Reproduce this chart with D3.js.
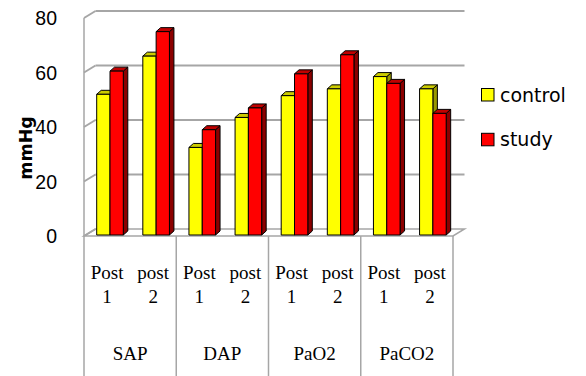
<!DOCTYPE html>
<html>
<head>
<meta charset="utf-8">
<script src="https://cdn.jsdelivr.net/npm/d3@7"></script>
<style>
  html, body { margin: 0; padding: 0; background: #fff; }
  svg { display: block; }
</style>
</head>
<body>
<svg id="chart" width="586" height="376"></svg>
<script>
// Measurement groups and their time points
const groups = ["SAP", "DAP", "PaO2", "PaCO2"];
const timepoints = [["Post", "1"], ["post", "2"]];
const seriesNames = ["control", "study"];
// Values in mmHg, one per group/time point (SAP p1, SAP p2, DAP p1, ...)
const controlValues = [52, 66, 32.5, 43.5, 51.5, 54, 58.5, 54];
const studyValues = [60.5, 75, 39, 47, 59.5, 66.5, 56, 45];
const yTicks = [0, 20, 40, 60, 80];

const svg = d3.select("#chart");

// 3D frame geometry
const frontLeft = 84, frontRight = 453, floorY = 236;
const wallDx = 11.5, wallDy = -7;
const barDx = 4.5, barDy = -4;

const slots = [];
groups.forEach(g => timepoints.forEach((t, i) => slots.push(g + "|" + i)));

const x = d3.scaleBand().domain(slots).range([frontLeft + 1, frontRight + 1]);
const xs = d3.scaleBand().domain(seriesNames).range([11.7, 38.3]);
const y = d3.scaleLinear().domain([0, 80]).range([floorY, floorY - 218]);

const gridColor = "#a6a6a6";

// Side wall (left) and back wall gridlines
const walls = svg.append("g");
yTicks.forEach(v => {
  const yf = y(v);
  walls.append("line")
    .attr("x1", frontLeft).attr("y1", yf)
    .attr("x2", frontLeft + wallDx).attr("y2", yf + wallDy)
    .attr("stroke", gridColor).attr("stroke-width", 2);
  if (v > 0) {
    walls.append("line")
      .attr("x1", frontLeft + wallDx).attr("y1", yf + wallDy)
      .attr("x2", frontRight + wallDx).attr("y2", yf + wallDy)
      .attr("stroke", gridColor).attr("stroke-width", 2.2);
  }
});
// side wall front edge
walls.append("line")
  .attr("x1", frontLeft).attr("y1", y(80)).attr("x2", frontLeft).attr("y2", floorY)
  .attr("stroke", gridColor).attr("stroke-width", 1.5);
// floor
walls.append("path")
  .attr("d", `M${frontLeft},${floorY}L${frontRight},${floorY}L${frontRight + wallDx},${floorY + wallDy}L${frontLeft + wallDx},${floorY + wallDy}Z`)
  .attr("fill", "none").attr("stroke", gridColor).attr("stroke-width", 1.5);

// Category axis dividers below the floor
const dividers = [0, 2, 4, 6, 8].map(i => frontLeft + i * x.bandwidth());
svg.append("g").selectAll("line").data(dividers).join("line")
  .attr("x1", d => d).attr("x2", d => d)
  .attr("y1", floorY).attr("y2", 376)
  .attr("stroke", gridColor).attr("stroke-width", 1.5);

// Bars as 3D prisms
const palette = {
  control: { front: "#ffff00", top: "#cccc00", side: "#999900" },
  study: { front: "#ff0000", top: "#c00000", side: "#8b0000" }
};
const bars = [];
slots.forEach((s, i) => {
  bars.push({ slot: s, series: "control", value: controlValues[i] });
  bars.push({ slot: s, series: "study", value: studyValues[i] });
});

const barG = svg.append("g");
bars.forEach(b => {
  const x0 = x(b.slot) + xs(b.series);
  const w = xs.bandwidth();
  const y0 = y(0) - 1;
  const y1 = y(b.value);
  const c = palette[b.series];
  const g = barG.append("g").attr("stroke", "#000").attr("stroke-width", 1).attr("stroke-linejoin", "round");
  g.append("path")
    .attr("d", `M${x0 + w},${y1}L${x0 + w + barDx},${y1 + barDy}L${x0 + w + barDx},${y0 + barDy}L${x0 + w},${y0}Z`)
    .attr("fill", c.side);
  g.append("path")
    .attr("d", `M${x0},${y1}L${x0 + barDx},${y1 + barDy}L${x0 + w + barDx},${y1 + barDy}L${x0 + w},${y1}Z`)
    .attr("fill", c.top);
  g.append("rect")
    .attr("x", x0).attr("y", y1).attr("width", w).attr("height", y0 - y1)
    .attr("fill", c.front);
});

// Value axis labels
svg.append("g").selectAll("text").data(yTicks).join("text")
  .attr("x", 57).attr("y", d => y(d) + 2)
  .attr("text-anchor", "end").attr("dominant-baseline", "middle")
  .attr("font-family", "Liberation Sans, Arial, sans-serif")
  .attr("font-size", 19.5).attr("fill", "#000")
  .text(d => d);

// Axis title
svg.append("text")
  .attr("transform", "translate(32,148) rotate(-90)")
  .attr("text-anchor", "middle")
  .attr("font-family", "DejaVu Sans, sans-serif")
  .attr("font-weight", "bold").attr("font-size", 17.5)
  .text("mmHg");

// Category labels: time point (two lines) and group name
const serif = "Liberation Serif, Times New Roman, serif";
const labG = svg.append("g").attr("font-family", serif).attr("font-size", 19).attr("text-anchor", "middle").attr("fill", "#000");
slots.forEach((s, i) => {
  const cx = x(s) + x.bandwidth() / 2 - 1;
  const t = timepoints[i % 2];
  labG.append("text").attr("x", cx).attr("y", 279).text(t[0]);
  labG.append("text").attr("x", cx).attr("y", 303).text(t[1]);
});
groups.forEach((g, i) => {
  const cx = frontLeft + (i * 2 + 1) * x.bandwidth();
  labG.append("text").attr("x", cx).attr("y", 360).text(g);
});

// Legend
const legend = svg.append("g");
const legendRows = [
  { name: "control", ySq: 88.5, yText: 101.5 },
  { name: "study", ySq: 133.3, yText: 146 }
];
legendRows.forEach(r => {
  legend.append("rect")
    .attr("x", 481.5).attr("y", r.ySq).attr("width", 12.5).attr("height", 12.5)
    .attr("fill", palette[r.name].front).attr("stroke", "#000").attr("stroke-width", 1);
  legend.append("text")
    .attr("x", 500).attr("y", r.yText)
    .attr("font-family", "DejaVu Sans, sans-serif").attr("font-size", 19)
    .attr("fill", "#000")
    .text(r.name);
});
</script>
</body>
</html>
